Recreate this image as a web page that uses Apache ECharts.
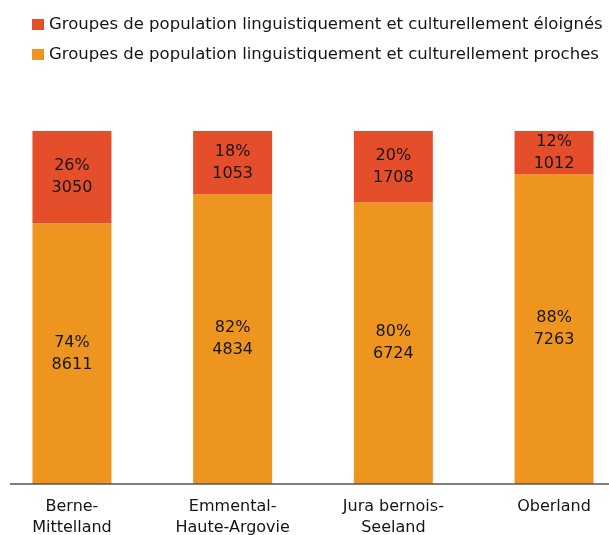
<!DOCTYPE html>
<html>
<head>
<meta charset="utf-8">
<script src="https://cdn.jsdelivr.net/npm/echarts@6/dist/echarts.min.js"></script>
<style>
html,body{margin:0;padding:0;background:#fff;}
#chart{width:609px;height:535px;}
</style>
</head>
<body>
<div id="chart"></div>
<script>
var categories = ['Berne-\nMittelland', 'Emmental-\nHaute-Argovie', 'Jura bernois-\nSeeland', 'Oberland'];
var seriesNames = ['Groupes de population linguistiquement et culturellement éloignés',
                   'Groupes de population linguistiquement et culturellement proches'];
var countsDistant = [3050, 1053, 1708, 1012];
var countsClose = [8611, 4834, 6724, 7263];

var FONT = 'DejaVu Sans';
var TXT = '#151515';
var totals = countsDistant.map(function (v, i) { return v + countsClose[i]; });
function toData(arr) {
  return arr.map(function (v, i) { return { value: v / totals[i] * 100, count: v }; });
}
var labelCfg = {
  show: true,
  position: 'inside',
  color: TXT,
  fontFamily: FONT,
  fontSize: 16,
  lineHeight: 22,
  formatter: function (p) { return Math.round(p.value) + '%\n' + p.data.count; }
};

var chart = echarts.init(document.getElementById('chart'), null, { renderer: 'canvas' });
chart.setOption({
  animation: false,
  backgroundColor: '#fff',
  legend: {
    orient: 'vertical',
    left: 27,
    top: 10,
    itemWidth: 12,
    itemHeight: 11,
    itemGap: 11,
    icon: 'rect',
    textStyle: { color: TXT, fontFamily: FONT, fontSize: 16.5, lineHeight: 19 },
    data: seriesNames
  },
  grid: { left: -8.4, right: -25.4, top: 131, bottom: 51, containLabel: false, outerBoundsMode: 'none' },
  xAxis: {
    type: 'category',
    data: categories,
    axisLine: { show: false },
    axisTick: { show: false },
    axisLabel: { color: TXT, fontFamily: FONT, fontSize: 16, lineHeight: 21, margin: 12, interval: 0, verticalAlign: 'top' }
  },
  yAxis: { type: 'value', min: 0, max: 100, show: false },
  graphic: [{
    type: 'line',
    shape: { x1: 10, y1: 484, x2: 609, y2: 484 },
    style: { stroke: '#555', lineWidth: 1.5 },
    z: 10
  }],
  series: [
    {
      name: seriesNames[1], type: 'bar', stack: 's', barWidth: 79,
      itemStyle: { color: '#EE951F' },
      label: labelCfg,
      data: toData(countsClose)
    },
    {
      name: seriesNames[0], type: 'bar', stack: 's', barWidth: 79,
      itemStyle: { color: '#E54E2B' },
      label: labelCfg,
      data: toData(countsDistant)
    }
  ]
});
</script>
</body>
</html>
